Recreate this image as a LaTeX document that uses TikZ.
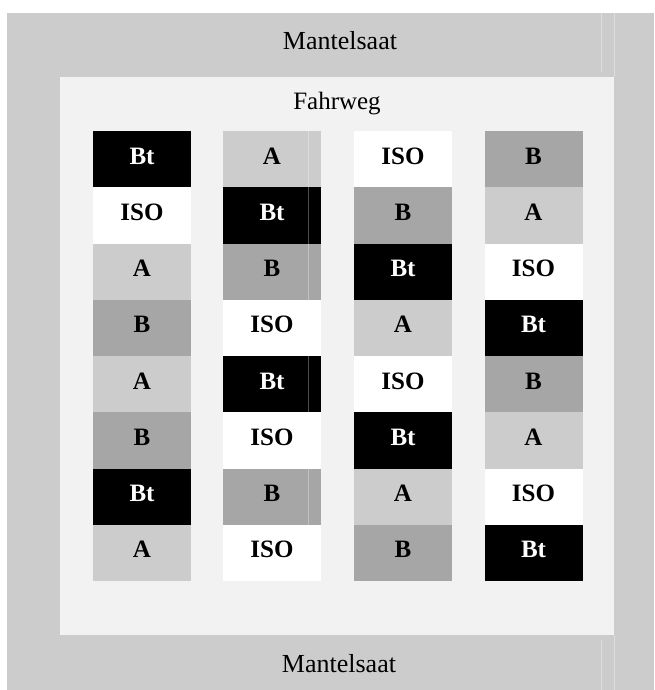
\documentclass[tikz,border=0pt]{standalone}
\usepackage{fontspec}
\setmainfont{Liberation Serif}
\definecolor{mantel}{HTML}{CCCCCC}
\definecolor{fahr}{HTML}{F2F2F2}
\definecolor{colA}{HTML}{CCCCCC}
\definecolor{colB}{HTML}{A6A6A6}
\definecolor{colBt}{HTML}{000000}
\definecolor{colISO}{HTML}{FFFFFF}
\definecolor{faint}{HTML}{DCDCDC}
\tikzset{
  tile/.style={anchor=north west, minimum width=98pt, minimum height=56.25pt,
    inner sep=0pt, outer sep=0pt, text height=14pt, text depth=4.25pt,
    font=\fontsize{25}{25}\selectfont\bfseries},
  tA/.style={tile, fill=colA, text=black},
  tB/.style={tile, fill=colB, text=black},
  tBt/.style={tile, fill=colBt, text=white},
  tISO/.style={tile, fill=colISO, text=black},
  bandlabel/.style={anchor=base, font=\fontsize{26}{26}\selectfont, inner sep=0pt},
  artline/.style={draw=faint, line width=0.8pt},
}
\begin{document}
\begin{tikzpicture}[x=1pt,y=-1pt]
\useasboundingbox (0,0) rectangle (654,690);
% outer Mantelsaat area
\fill[mantel] (7,13) rectangle (654,690);
% inner Fahrweg area
\fill[fahr] (60,77) rectangle (614,635);
% faint artefact lines in the bands
\draw[artline] (601,13) -- (601,72);
\draw[artline] (601,640) -- (601,690);
\draw[artline] (614.5,13) -- (614.5,77);
\draw[artline] (614.5,635) -- (614.5,690);

\node[bandlabel] (mtop) at (340,50) {Mantelsaat};
\node[bandlabel] (mbot) at (339,672) {Mantelsaat};
\node[bandlabel, font=\fontsize{25}{25}\selectfont] (fahrweg) at (337,110) {Fahrweg};

% column 1
\foreach \t [count=\r from 0] in {Bt,ISO,A,B,A,B,Bt,A}
  \node[t\t] (c1r\r) at (93,131+56.25*\r) {\t};
% column 2
\foreach \t [count=\r from 0] in {A,Bt,B,ISO,Bt,ISO,B,ISO}
  \node[t\t] (c2r\r) at (223,131+56.25*\r) {\t};
% column 3
\foreach \t [count=\r from 0] in {ISO,B,Bt,A,ISO,Bt,A,B}
  \node[t\t] (c3r\r) at (354,131+56.25*\r) {\t};
% column 4
\foreach \t [count=\r from 0] in {B,A,ISO,Bt,B,A,ISO,Bt}
  \node[t\t] (c4r\r) at (484.5,131+56.25*\r) {\t};

% faint artefact lines in column 2
\foreach \r in {0,1,2,4,6}
  \draw[white, opacity=0.3, line width=0.7pt] ([xshift=-13pt]c2r\r.north east) -- ([xshift=-13pt]c2r\r.south east);
\end{tikzpicture}
\end{document}
